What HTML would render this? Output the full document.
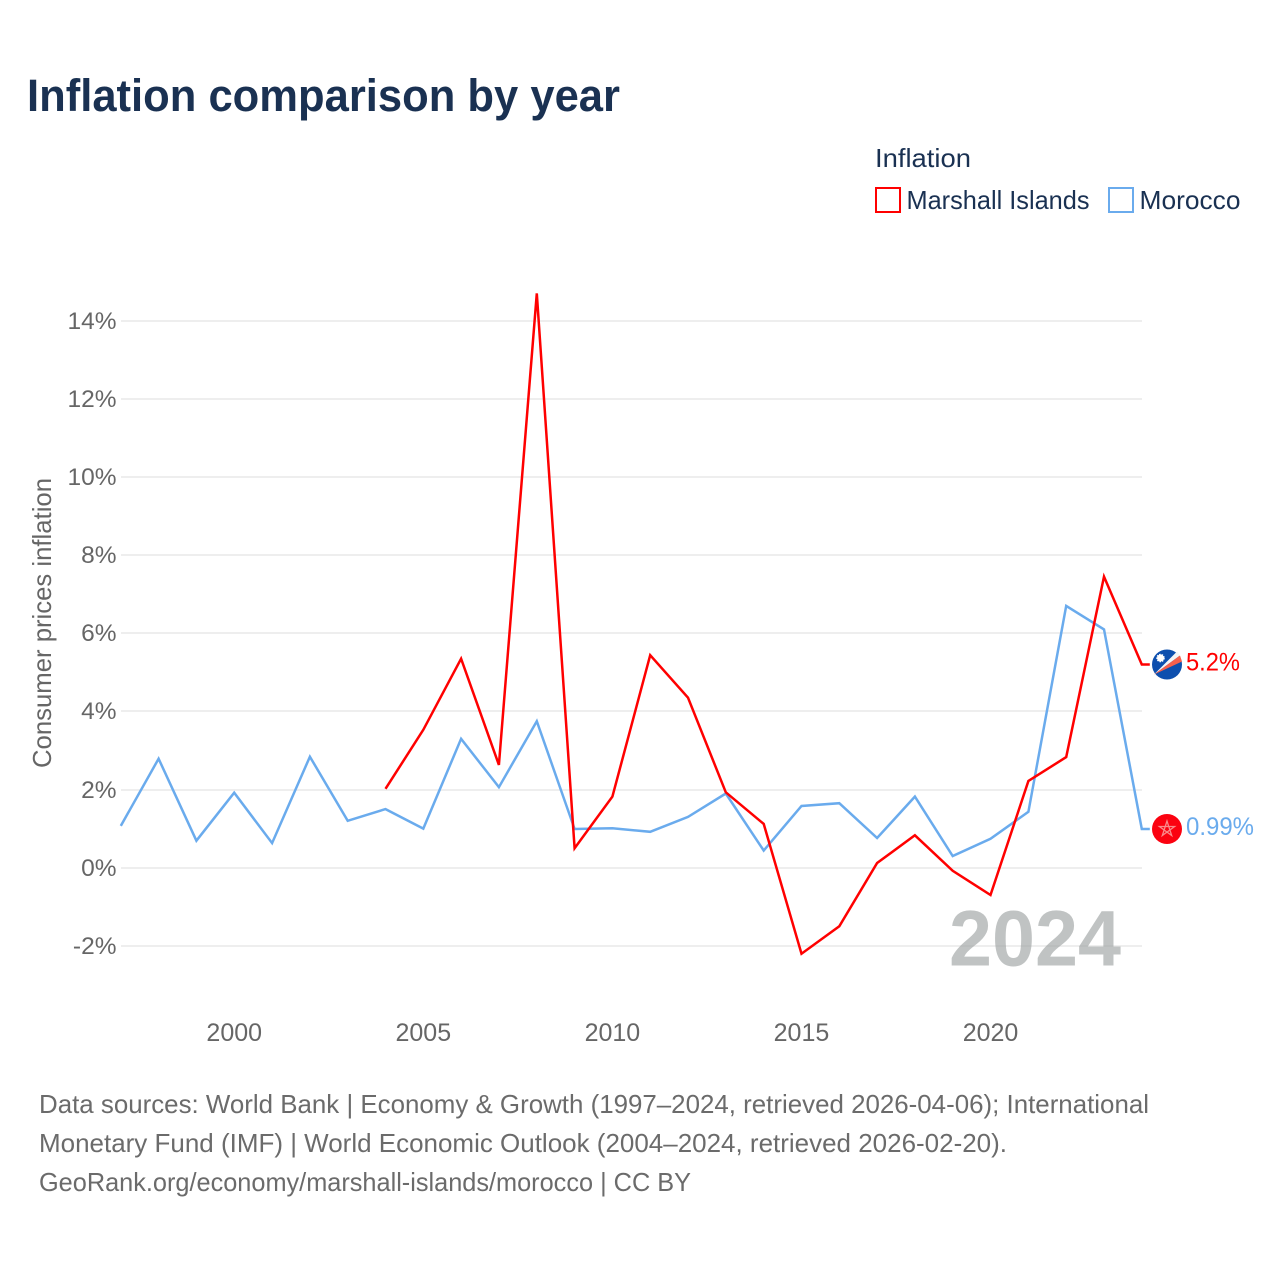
<!DOCTYPE html>
<html lang="en">
<head>
<meta charset="utf-8">
<title>Inflation comparison by year</title>
<style>
html,body{margin:0;padding:0;background:#fff;}
svg{display:block;font-family:"Liberation Sans",Arial,sans-serif;}
</style>
</head>
<body>
<svg id="chart" width="1280" height="1280" viewBox="0 0 1280 1280" xmlns="http://www.w3.org/2000/svg">
  <rect width="1280" height="1280" fill="#ffffff"/>
  <text x="27" y="111" font-size="45" font-weight="700" fill="#1a3152" textLength="593" lengthAdjust="spacingAndGlyphs">Inflation comparison by year</text>

  <g>
    <text x="875" y="167" font-size="26" fill="#1a3152" textLength="96" lengthAdjust="spacingAndGlyphs">Inflation</text>
    <g>
      <rect x="876" y="188" width="24" height="24" fill="#fff" stroke="#ff0000" stroke-width="2"/>
      <text x="906.5" y="209" font-size="26" fill="#1a3152" textLength="183" lengthAdjust="spacingAndGlyphs">Marshall Islands</text>
    </g>
    <g>
      <rect x="1109" y="188" width="24" height="24" fill="#fff" stroke="#6aabed" stroke-width="2"/>
      <text x="1139.5" y="209" font-size="26" fill="#1a3152" textLength="101" lengthAdjust="spacingAndGlyphs">Morocco</text>
    </g>
  </g>

  <text transform="translate(51,768) rotate(-90)" x="0" y="0" font-size="26" fill="#666666" textLength="290" lengthAdjust="spacingAndGlyphs">Consumer prices inflation</text>

  <g id="grid"></g>
  <g id="yticks"></g>
  <g id="xticks"></g>

  <text x="1121" y="965.5" font-size="79" font-weight="700" fill="#9a9e9e" fill-opacity="0.62" text-anchor="end" textLength="172" lengthAdjust="spacingAndGlyphs">2024</text>

  <g id="series"></g>

  <g id="flag-mh">
    <circle cx="0" cy="0" r="15" fill="#0d4fae"/>
    <path d="M-13 10 L10 -13 L13 -9 Z" fill="#f5f5f5"/>
    <path d="M-13 10 L13 -9 L15 -3 Z" fill="#f7604c"/>
    <circle cx="-6.5" cy="-6.5" r="3.5" fill="#ffffff" stroke="#ffffff" stroke-width="1.5" stroke-dasharray="1.5 1"/>
  </g>
  <g id="flag-ma">
    <circle cx="0" cy="0" r="15" fill="#fb0210"/>
    <path d="M0 -8 L4.7 6.5 L-7.6 -2.5 L7.6 -2.5 L-4.7 6.5 Z" fill="none" stroke="#f98a8a" stroke-width="1.3"/>
  </g>
  <text id="label-mh" x="1186" font-size="25" fill="#ff0000" textLength="54" lengthAdjust="spacingAndGlyphs"></text>
  <text id="label-ma" x="1186" font-size="25" fill="#6aabed" textLength="68" lengthAdjust="spacingAndGlyphs"></text>

  <g font-size="26" fill="#6b6b6b">
    <text x="39" y="1113" textLength="1110" lengthAdjust="spacingAndGlyphs">Data sources: World Bank | Economy &amp; Growth (1997–2024, retrieved 2026-04-06); International</text>
    <text x="39" y="1152" textLength="968" lengthAdjust="spacingAndGlyphs">Monetary Fund (IMF) | World Economic Outlook (2004–2024, retrieved 2026-02-20).</text>
    <text x="39" y="1191" textLength="652" lengthAdjust="spacingAndGlyphs">GeoRank.org/economy/marshall-islands/morocco | CC BY</text>
  </g>
</svg>
<script>
var moroccoYears = [1997,1998,1999,2000,2001,2002,2003,2004,2005,2006,2007,2008,2009,2010,2011,2012,2013,2014,2015,2016,2017,2018,2019,2020,2021,2022,2023,2024];
var moroccoValues = [1.07,2.79,0.69,1.92,0.63,2.84,1.2,1.5,1.0,3.3,2.06,3.75,0.99,1.01,0.92,1.3,1.9,0.44,1.58,1.65,0.76,1.82,0.3,0.74,1.43,6.7,6.1,0.99];
var marshallYears = [2004,2005,2006,2007,2008,2009,2010,2011,2012,2013,2014,2015,2016,2017,2018,2019,2020,2021,2022,2023,2024];
var marshallValues = [2.02,3.53,5.35,2.63,14.7,0.5,1.82,5.44,4.35,1.93,1.12,-2.2,-1.5,0.12,0.83,-0.08,-0.7,2.22,2.83,7.45,5.2];
var yTickValues = [-2,0,2,4,6,8,10,12,14];
var xTickValues = [2000,2005,2010,2015,2020];

var SVGNS = 'http://www.w3.org/2000/svg';
function xScale(year){ return 120.8 + (year - 1997) * (1021 / 27); }
function yScale(v){ return 867.7 - v * 39.07; }
function make(tag, attrs, parent){
  var el = document.createElementNS(SVGNS, tag);
  for (var k in attrs) el.setAttribute(k, attrs[k]);
  parent.appendChild(el);
  return el;
}

var grid = document.getElementById('grid');
var yticks = document.getElementById('yticks');
var xticks = document.getElementById('xticks');

yTickValues.forEach(function(v){
  var gy = Math.round(yScale(v));
  var line = make('line', {x1:121, x2:1142, y1:gy, y2:gy, stroke:'#eeeeee', 'stroke-width':2}, grid);
  
  
  var t = make('text', {x:116.5, y:gy+8, 'font-size':24.5, fill:'#666666', 'text-anchor':'end'}, yticks);
  
  
  t.textContent = v + '%';
});

xTickValues.forEach(function(y){
  var t = make('text', {x:xScale(y), y:1041, 'font-size':25, fill:'#666666', 'text-anchor':'middle'}, xticks);
  
  
  t.textContent = y;
});

function linePoints(years, values){
  var pts = years.map(function(y, i){ return xScale(y).toFixed(1) + ',' + yScale(values[i]).toFixed(1); });
  var lastY = yScale(values[values.length - 1]).toFixed(1);
  pts.push((xScale(years[years.length - 1]) + 8).toFixed(1) + ',' + lastY);
  return pts.join(' ');
}
var series = document.getElementById('series');

var moroccoLine = make('polyline', {points:linePoints(moroccoYears, moroccoValues), fill:'none', stroke:'#6aabed', 'stroke-width':2.5, 'stroke-linejoin':'miter'}, series);



var marshallLine = make('polyline', {points:linePoints(marshallYears, marshallValues), fill:'none', stroke:'#ff0000', 'stroke-width':2.5, 'stroke-linejoin':'miter'}, series);



var lastMH = marshallValues[marshallValues.length - 1];
var lastMA = moroccoValues[moroccoValues.length - 1];
document.getElementById('flag-mh').setAttribute('transform', 'translate(1167,' + yScale(lastMH) + ')');
document.getElementById('flag-ma').setAttribute('transform', 'translate(1167,' + yScale(lastMA) + ')');
var labelMH = document.getElementById('label-mh');
labelMH.setAttribute('y', yScale(lastMH) + 6);
labelMH.textContent = lastMH + '%';
var labelMA = document.getElementById('label-ma');
labelMA.setAttribute('y', yScale(lastMA) + 6);
labelMA.textContent = lastMA + '%';
</script>
</body>
</html>
